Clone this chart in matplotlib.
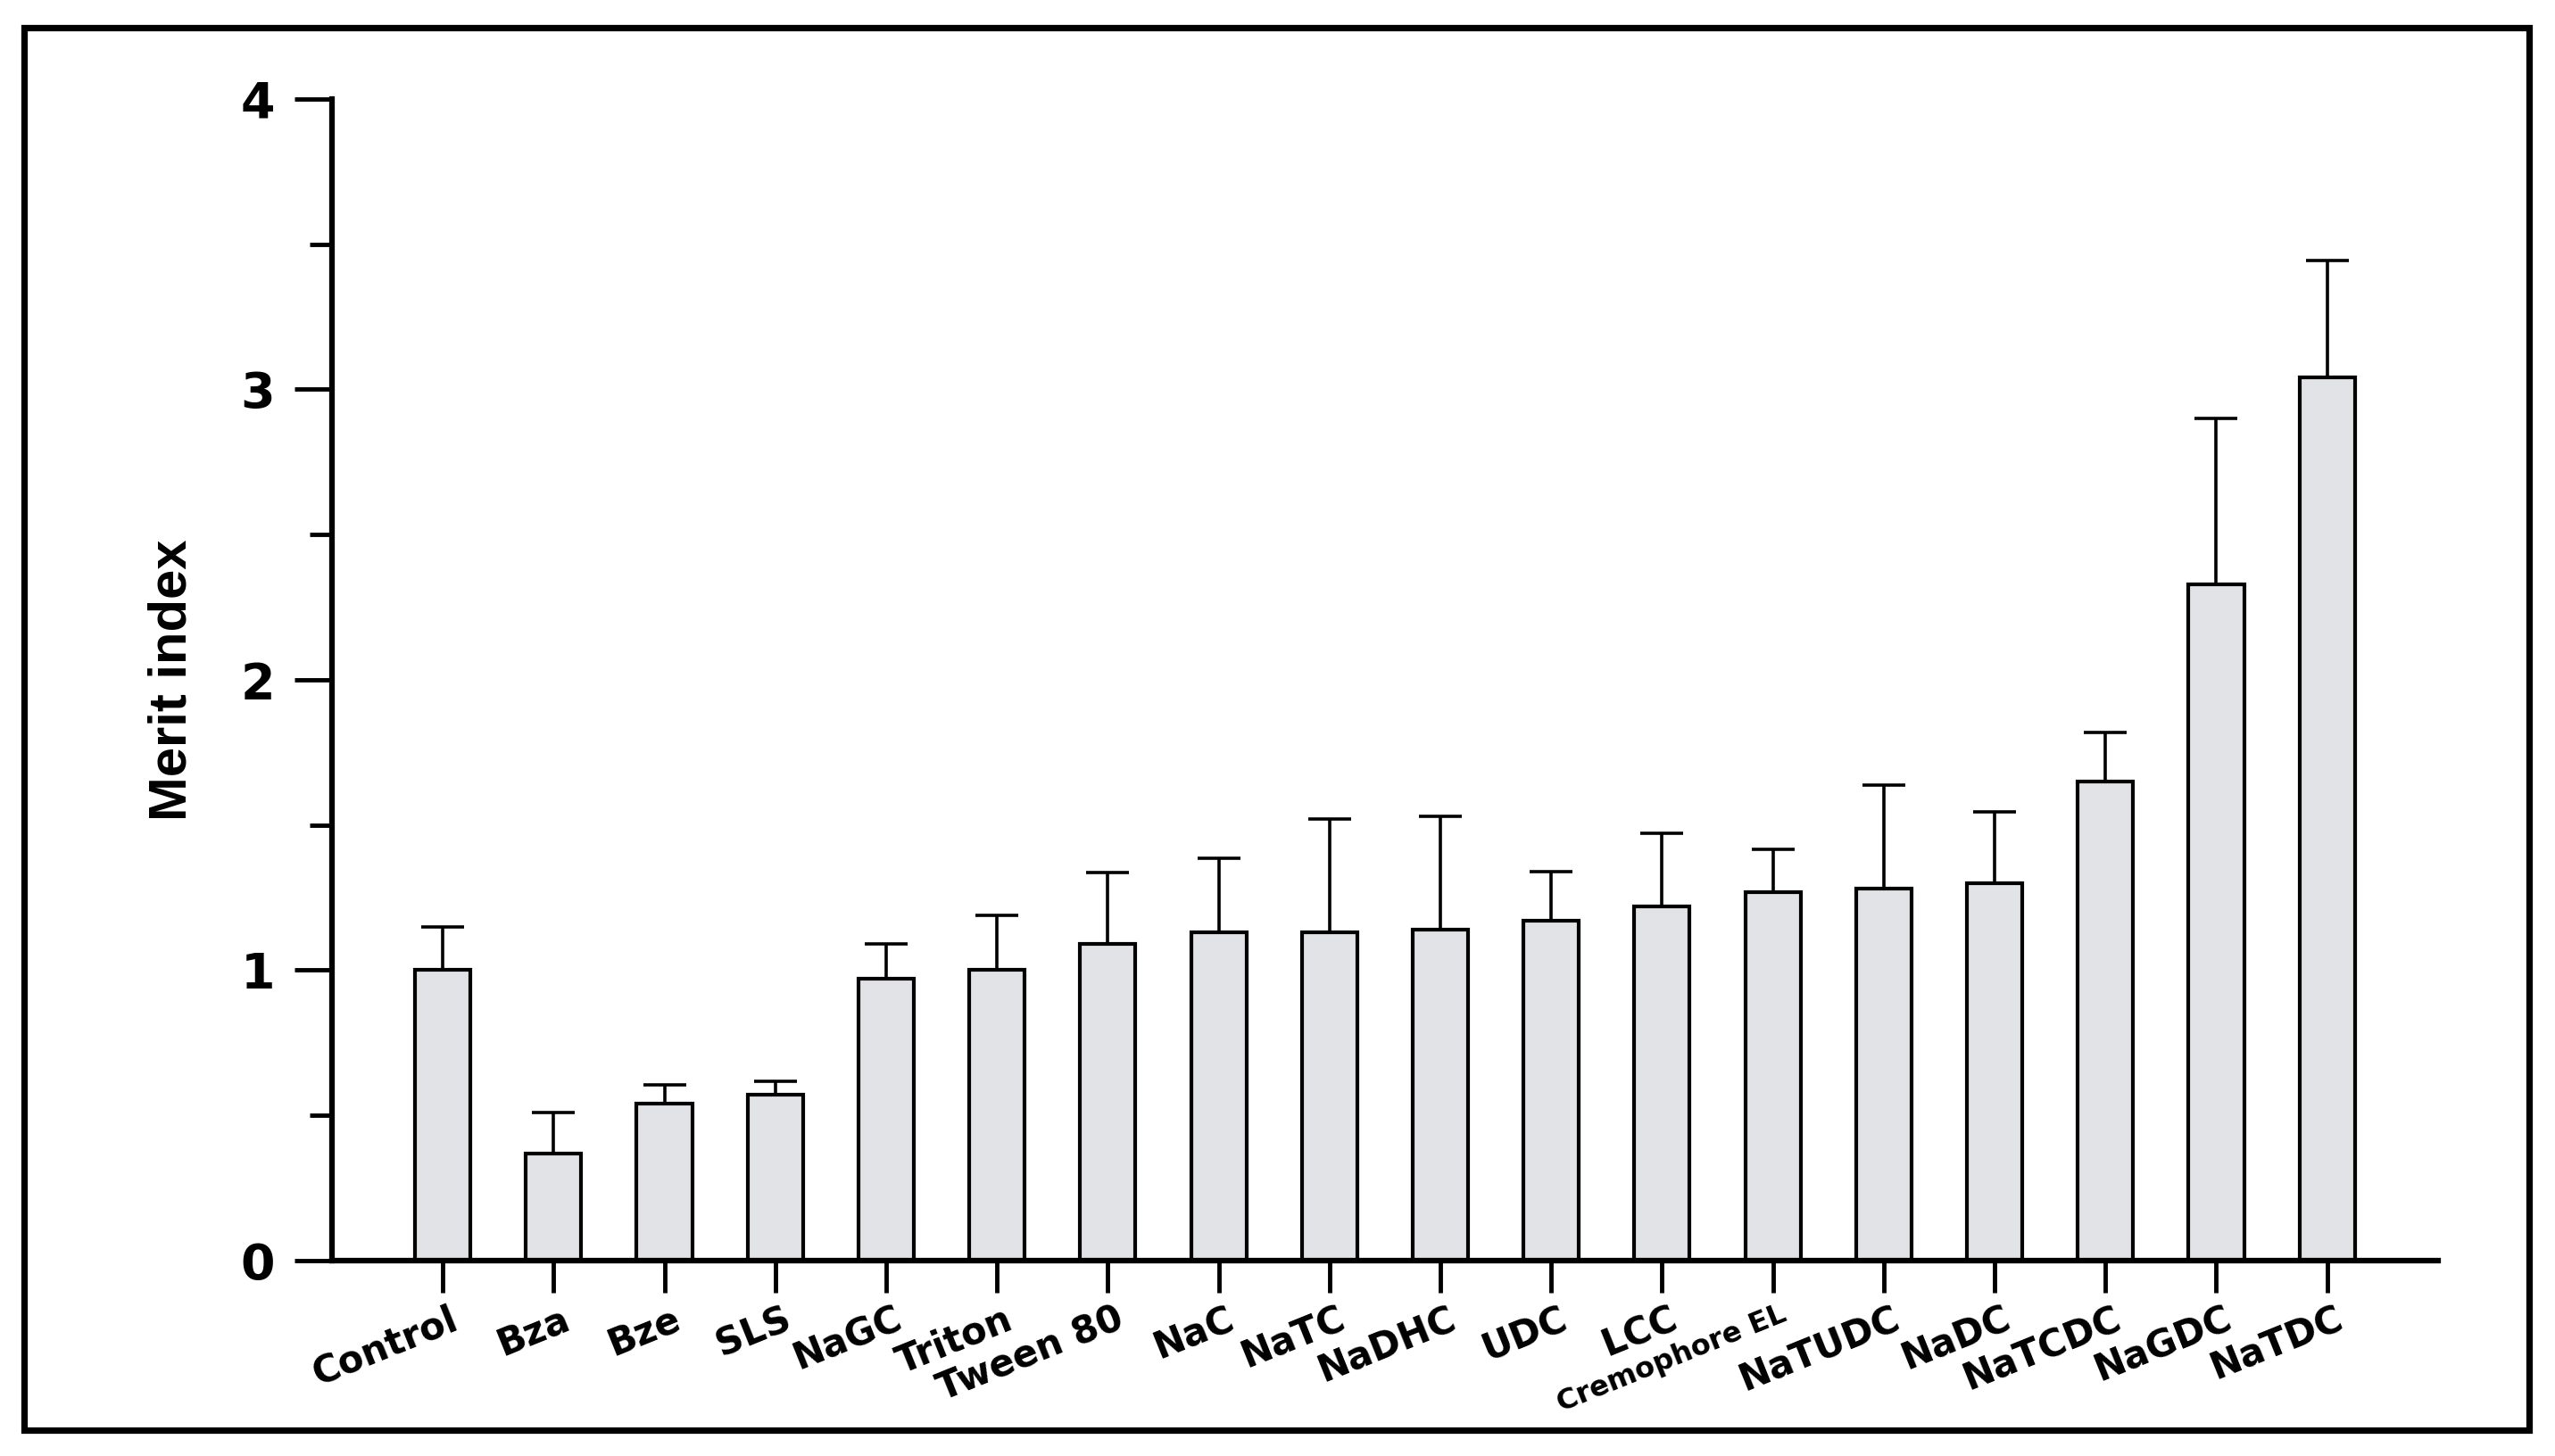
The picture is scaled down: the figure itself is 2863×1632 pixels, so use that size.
import numpy as np
import matplotlib.pyplot as plt
import matplotlib.transforms as mtransforms
from matplotlib.patches import Rectangle

# Data
groups = ["Control", "Bza", "Bze", "SLS", "NaGC", "Triton", "Tween 80", "NaC", "NaTC",
          "NaDHC", "UDC", "LCC", "Cremophore EL", "NaTUDC", "NaDC", "NaTCDC", "NaGDC", "NaTDC"]
merit = [1.00, 0.37, 0.54, 0.57, 0.97, 1.00, 1.09, 1.13, 1.13,
         1.14, 1.17, 1.22, 1.27, 1.28, 1.30, 1.65, 2.33, 3.04]
err = [0.15, 0.14, 0.065, 0.046, 0.12, 0.19, 0.245, 0.255, 0.39,
       0.39, 0.17, 0.25, 0.147, 0.356, 0.246, 0.17, 0.57, 0.405]
y_ticks = [0, 1, 2, 3, 4]

fig = plt.figure(figsize=(28.63, 16.32), dpi=100)
ax = fig.add_axes([0.1299, 0.1342, 0.8243, 0.7978])

x = np.arange(1, len(groups) + 1)
ax.bar(x, merit, width=0.5, color="#e1e3e7", edgecolor="black", linewidth=3, zorder=2)
ax.errorbar(x, merit, yerr=[np.zeros(len(err)), err], fmt="none", ecolor="black",
            elinewidth=2.6, capsize=17.5, capthick=2.6, zorder=1)

ax.set_xlim(0, 19)
ax.set_ylim(0, 4)

# axes styling
for s in ["top", "right"]:
    ax.spines[s].set_visible(False)
ax.spines["left"].set_linewidth(4.5)
ax.spines["bottom"].set_linewidth(4.5)
ax.spines["left"].set_bounds(0, 4)

ax.set_yticks(y_ticks)
ax.set_yticks(np.arange(0.5, 4, 1), minor=True)
ax.tick_params(axis="y", which="major", length=30, width=3.5, pad=16)
ax.tick_params(axis="y", which="minor", length=18, width=3.5)
ax.tick_params(axis="x", which="major", length=26, width=3.5, pad=6)
for lab in ax.get_yticklabels():
    lab.set_fontfamily("DejaVu Sans")
    lab.set_fontweight("bold")
    lab.set_fontsize(40)

ax.set_xticks(x)
ax.set_xticklabels(groups, rotation=22, ha="right", va="top", rotation_mode="anchor",
                   fontfamily="DejaVu Sans", fontweight="bold", fontsize=30)
shift = mtransforms.ScaledTranslation(0.08, 0, fig.dpi_scale_trans)
for lab in ax.get_xticklabels():
    lab.set_transform(lab.get_transform() + shift)
    if lab.get_text() == "Cremophore EL":
        lab.set_fontsize(23)

ax.set_ylabel("Merit index", fontsize=43, fontweight="bold",
              family=["Liberation Sans", "DejaVu Sans"])
ax.yaxis.set_label_coords(-0.064, 0.5)

# black frame around the whole picture
fig.patches.append(Rectangle((0.0096, 0.0178), 0.9801, 0.9629, transform=fig.transFigure,
                             fill=False, edgecolor="black", linewidth=5.2))

fig.savefig("out.png", dpi=100)
